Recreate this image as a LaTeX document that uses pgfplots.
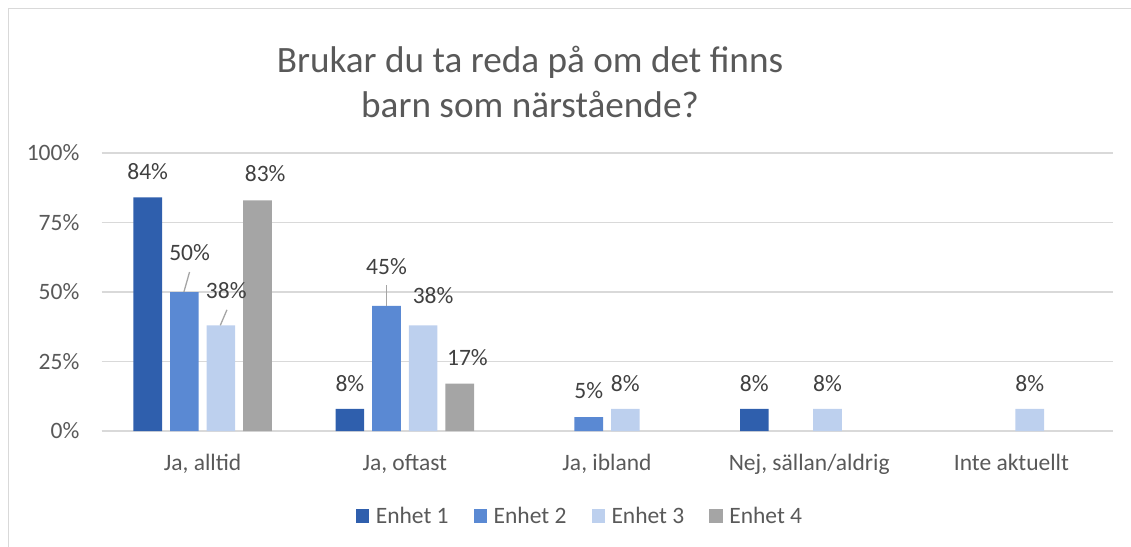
\documentclass[border=0pt]{standalone}
\usepackage{fontspec}
\setmainfont{Carlito}
\usepackage{pgfplots}
\usepackage{pgfplotstable}
\pgfplotsset{compat=1.18}

\definecolor{eA}{HTML}{2F5FAD}
\definecolor{eB}{HTML}{5A89D3}
\definecolor{eC}{HTML}{BDD0EE}
\definecolor{eD}{HTML}{A5A5A5}
\definecolor{gridgray}{HTML}{D9D9D9}
\definecolor{txt}{HTML}{595959}
\definecolor{lbl}{HTML}{404040}

% x = category index, dx/dy = label offset (bp)
\pgfplotstableread{
x y dx dy
0 84 0 17.7
1 8 0 17.6
3 8 0 17.6
}\enhetA
\pgfplotstableread{
x y dx dy
0 50 5.3 31.7
1 45 0 31.4
2 5 0 18.7
}\enhetB
\pgfplotstableread{
x y dx dy
0 38 5.4 26.7
1 38 10 21.4
2 8 0 17.6
3 8 0 17.6
4 8 0 17.6
}\enhetC
\pgfplotstableread{
x y dx dy
0 83 7.7 18.3
1 17 7.7 18.3
}\enhetD

\begin{document}
\begin{tikzpicture}
\useasboundingbox (0,0) rectangle (1131bp,-547bp);
\draw[gridgray, line width=1.5bp] (8.5bp,-548bp) -- (8.5bp,-8.5bp) -- (1132bp,-8.5bp);

\node[anchor=base, text=txt, font=\fontsize{37.2bp}{44bp}\selectfont] at (530bp,-72bp) {Brukar du ta reda på om det finns};
\node[anchor=base, text=txt, font=\fontsize{37.2bp}{44bp}\selectfont] at (530bp,-117bp) {barn som närstående?};

\begin{axis}[
    at={(101.5bp,-431bp)}, anchor=south west,
    scale only axis, width=1011bp, height=278bp,
    ybar=8bp, bar width=28.6bp,
    xmin=-0.5, xmax=4.5, ymin=0, ymax=100,
    clip=false,
    axis lines*=left,
    y axis line style={draw=none},
    x axis line style={draw=gridgray, line width=1.5bp},
    major tick length=0pt,
    ymajorgrids,
    grid style={draw=gridgray, line width=1.5bp},
    xtick={0,1,2,3,4},
    xticklabels={{Ja, alltid},{Ja, oftast},{Ja, ibland},{Nej, sällan/aldrig},{Inte aktuellt}},
    ytick={0,25,50,75,100},
    yticklabels={0\%,25\%,50\%,75\%,100\%},
    ticklabel style={font=\fontsize{23.5bp}{28bp}\selectfont, text=txt},
    xticklabel style={anchor=base, inner sep=0pt, yshift=-39bp},
    yticklabel style={anchor=east, inner sep=0pt, xshift=-22bp},
    /pgf/number format/assume math mode=true,
    point meta=y,
    visualization depends on={\thisrow{dx} \as \dx},
    visualization depends on={\thisrow{dy} \as \dy},
    nodes near coords={\pgfmathprintnumber{\pgfplotspointmeta}\%},
    nodes near coords style={anchor=base, inner sep=0pt, text=lbl,
        font=\fontsize{23.5bp}{28bp}\selectfont,
        xshift=\dx*1bp, yshift=\dy*1bp},
    legend columns=4,
    legend image code/.code={\fill[#1] (0bp,-6.7bp) rectangle (13.4bp,6.7bp);},
    legend style={draw=none, fill=none,
        at={(axis description cs:0.4723,-0.3058)}, anchor=center,
        font=\fontsize{23.5bp}{28bp}\selectfont, text=txt,
        nodes={inner sep=0pt},
        /tikz/every odd column/.append style={column sep=6.6bp},
        /tikz/every even column/.append style={column sep=25bp}},
]
\addplot[fill=eA, draw=none] table[x=x, y=y] {\enhetA};
\addplot[fill=eB, draw=none] table[x=x, y=y] {\enhetB};
\addplot[fill=eC, draw=none] table[x=x, y=y] {\enhetC};
\addplot[fill=eD, draw=none] table[x=x, y=y] {\enhetD};
\legend{Enhet 1, Enhet 2, Enhet 3, Enhet 4}

% leader lines for the moved labels
\draw[eD, line width=1.3bp] (axis cs:-0.0925,50) -- (axis cs:-0.0645,57.2);
\draw[eD, line width=1.3bp] (axis cs:0.0875,38) -- (axis cs:0.1205,43.6);
\draw[eD, line width=1.3bp] (axis cs:0.9095,45) -- (axis cs:0.9095,52.4);
\end{axis}
\end{tikzpicture}
\end{document}
